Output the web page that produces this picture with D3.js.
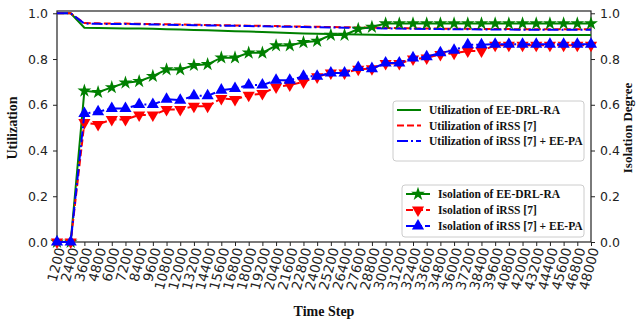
<!DOCTYPE html>
<html>
<head>
<meta charset="utf-8">
<script src="https://cdn.jsdelivr.net/npm/d3@7"></script>
<style>
body{margin:0;background:#fff;}
svg{display:block;}
.tick text{font-family:"DejaVu Sans",sans-serif;font-size:12.5px;fill:#222;}
.xaxis .tick text{font-size:13.5px;}
.lab{font-family:"Liberation Serif","Times New Roman",serif;font-weight:bold;fill:#111;}
</style>
</head>
<body>
<svg id="svg" width="636" height="322"></svg>
<script>
var steps=[1200,2400,3600,4800,6000,7200,8400,9600,10800,12000,13200,14400,15600,16800,18000,19200,20400,21600,22800,24000,
	25200,26400,27600,28800,30000,31200,32400,33600,34800,36000,37200,38400,39600,40800,42000,43200,44400,45600,46800,48000];

// utilization (left axis)
var utilEE=[1,1,0.937,0.936,0.935,0.934,0.933,0.932,0.930,0.929,0.927,0.926,0.924,0.922,0.920,0.918,0.916,0.914,0.912,0.910,
	0.909,0.908,0.907,0.906,0.905,0.905,0.905,0.905,0.905,0.905,0.905,0.905,0.905,0.905,0.905,0.905,0.905,0.905,0.905,0.905];
var utilIRSS=[1,1,0.957,0.956,0.955,0.955,0.954,0.953,0.952,0.951,0.950,0.949,0.948,0.947,0.946,0.945,0.944,0.943,0.942,0.941,
	0.940,0.939,0.938,0.937,0.936,0.935,0.934,0.933,0.933,0.932,0.932,0.931,0.931,0.931,0.930,0.930,0.930,0.930,0.930,0.930];
var utilIRSSPA=[1,1,0.955,0.954,0.953,0.953,0.952,0.951,0.950,0.949,0.948,0.947,0.946,0.945,0.944,0.943,0.942,0.941,0.940,0.939,
	0.938,0.937,0.936,0.935,0.934,0.933,0.932,0.931,0.931,0.930,0.930,0.929,0.929,0.929,0.928,0.928,0.928,0.928,0.928,0.928];

// isolation (right axis)
var isoEE=[0,0,0.661,0.655,0.676,0.696,0.703,0.725,0.754,0.754,0.773,0.777,0.806,0.806,0.827,0.827,0.859,0.859,0.873,0.879,
	0.905,0.905,0.931,0.940,0.955,0.955,0.955,0.955,0.955,0.955,0.955,0.955,0.955,0.955,0.955,0.955,0.955,0.955,0.955,0.955];
var isoIRSS=[0,0,0.522,0.514,0.536,0.536,0.555,0.555,0.579,0.579,0.594,0.594,0.627,0.623,0.642,0.649,0.678,0.686,0.700,0.722,
	0.739,0.739,0.755,0.758,0.780,0.780,0.800,0.805,0.820,0.825,0.835,0.835,0.860,0.860,0.860,0.860,0.860,0.860,0.860,0.860];
var isoIRSSPA=[0,0,0.562,0.569,0.584,0.584,0.601,0.601,0.624,0.620,0.639,0.639,0.664,0.671,0.686,0.686,0.707,0.707,0.725,0.725,
	0.739,0.739,0.763,0.758,0.783,0.783,0.805,0.810,0.827,0.838,0.862,0.862,0.865,0.865,0.865,0.865,0.865,0.865,0.865,0.865];

var yticks=[0,0.2,0.4,0.6,0.8,1.0];

var svg=d3.select("#svg");
var area={left:57,right:591,top:11,bottom:242};

var xscale=d3.scalePoint().domain(steps).range([area.left,area.right]);
var yscale=d3.scaleLinear().domain([0,1.01]).range([area.bottom,area.top]);

// axes
var xaxis=svg.append("g")
	.classed("xaxis",true)
	.attr("transform","translate(0,"+area.bottom+")")
	.call(d3.axisBottom(xscale).tickSizeOuter(0).tickSize(4));
xaxis.selectAll("text")
	.attr("text-anchor","end")
	.attr("transform","translate(3,6) rotate(-75)")
	.attr("x",0).attr("y",0).attr("dy","0.35em");

var yaxisL=svg.append("g")
	.attr("transform","translate("+area.left+",0)")
	.call(d3.axisLeft(yscale).tickValues(yticks).tickFormat(d3.format(".1f")).tickSize(4).tickPadding(5).tickSizeOuter(0));
var yaxisR=svg.append("g")
	.attr("transform","translate("+area.right+",0)")
	.call(d3.axisRight(yscale).tickValues(yticks).tickFormat(d3.format(".1f")).tickSize(4).tickPadding(5).tickSizeOuter(0));

svg.selectAll(".domain").remove();
svg.selectAll(".tick line").attr("stroke","#222").attr("stroke-width",1);

svg.append("rect")
	.attr("x",area.left).attr("y",area.top)
	.attr("width",area.right-area.left).attr("height",area.bottom-area.top)
	.attr("fill","none").attr("stroke","#222").attr("stroke-width",1.2);

// titles
svg.append("text").attr("class","lab").attr("font-size",14)
	.attr("text-anchor","middle").attr("x",324).attr("y",316).text("Time Step");
svg.append("text").attr("class","lab").attr("font-size",14)
	.attr("text-anchor","middle").attr("transform","translate(17,128) rotate(-90)").text("Utilization");
svg.append("text").attr("class","lab").attr("font-size",13)
	.attr("text-anchor","middle").attr("transform","translate(632,128) rotate(-90)").text("Isolation Degree");

var series=[
	{name:"Utilization of EE-DRL-RA",values:utilEE,color:"green",dash:null,marker:null},
	{name:"Utilization of iRSS [7]",values:utilIRSS,color:"red",dash:"7,3",marker:null},
	{name:"Utilization of iRSS [7] + EE-PA",values:utilIRSSPA,color:"blue",dash:"11,3,2,3",marker:null},
	{name:"Isolation of EE-DRL-RA",values:isoEE,color:"green",dash:null,marker:"star"},
	{name:"Isolation of iRSS [7]",values:isoIRSS,color:"red",dash:"7,3",marker:"down"},
	{name:"Isolation of iRSS [7] + EE-PA",values:isoIRSSPA,color:"blue",dash:"11,3,2,3",marker:"up"}
];

var line=d3.line()
	.x(function(d,i){return xscale(steps[i]);})
	.y(function(d){return yscale(d);});

function symbolFor(m){
	if(m=="star") return d3.symbol().type(d3.symbolStar).size(60)();
	return d3.symbol().type(d3.symbolTriangle).size(64)();
}
function rotFor(m){return m=="down"?" rotate(180)":"";}

var plot=svg.append("g");
series.forEach(function(s){
	plot.append("path")
		.attr("d",line(s.values))
		.attr("fill","none")
		.attr("stroke",s.color)
		.attr("stroke-width",2)
		.attr("stroke-dasharray",s.dash);
	if(s.marker){
		plot.selectAll(null).data(s.values).enter()
			.append("path")
			.attr("d",symbolFor(s.marker))
			.attr("transform",function(d,i){return "translate("+xscale(steps[i])+","+yscale(d)+")"+rotFor(s.marker);})
			.attr("fill",s.color);
	}
});

// legends
function legend(items,x,y,w,h,rowy){
	var g=svg.append("g");
	g.append("rect").attr("x",x).attr("y",y).attr("width",w).attr("height",h)
		.attr("rx",3).attr("fill","#fff").attr("fill-opacity",0.85)
		.attr("stroke","#ccc").attr("stroke-width",1);
	items.forEach(function(s,i){
		var yy=y+rowy[i];
		g.append("line").attr("x1",x+4).attr("x2",x+28).attr("y1",yy).attr("y2",yy)
			.attr("stroke",s.color).attr("stroke-width",2).attr("stroke-dasharray",s.dash);
		if(s.marker){
			g.append("path").attr("d",symbolFor(s.marker))
				.attr("transform","translate("+(x+16)+","+yy+")"+rotFor(s.marker))
				.attr("fill",s.color);
		}
		g.append("text").attr("class","lab").attr("font-size",11.5)
			.attr("x",x+36).attr("y",yy).attr("dy","0.35em").text(s.name);
	});
}
legend(series.slice(0,3),393,101,191,60,[9,24.5,40]);
legend(series.slice(3,6),402,185,182,52,[9,25,41]);
</script>
</body>
</html>
